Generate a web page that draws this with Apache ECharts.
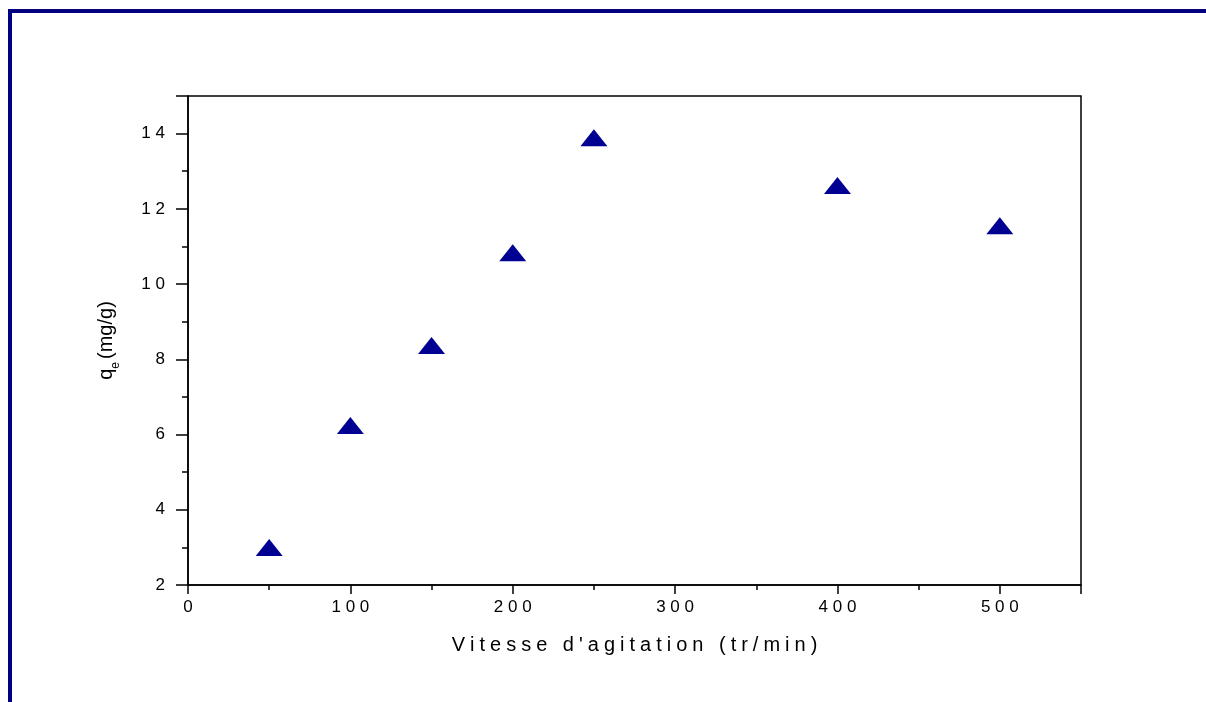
<!DOCTYPE html>
<html>
<head>
<meta charset="utf-8">
<script src="https://cdn.jsdelivr.net/npm/echarts@6/dist/echarts.min.js"></script>
<style>
html,body{margin:0;padding:0;background:#fff;}
#c{width:1206px;height:702px;}
</style>
</head>
<body>
<div id="c"></div>
<script>
// Data
const speeds = [50, 100, 150, 200, 250, 400, 500];
const qe = [3.0, 6.24, 8.37, 10.83, 13.89, 12.62, 11.55];
const xTitle = "Vitesse d'agitation (tr/min)";
const yTitle = "(mg/g)";

function spaced(s){ return String(s).split('').join(' '); }
function spacedTitle(s){ return s.split('').join('\u2005'); }

const chart = echarts.init(document.getElementById('c'), null, {renderer:'canvas'});
const font = "'Liberation Sans', Arial, sans-serif";
chart.setOption({
  animation:false,
  backgroundColor:'#fff',
  graphic:[
    {type:'rect', shape:{x:8,y:9,width:1198,height:4}, style:{fill:'#000080'}, silent:true},
    {type:'rect', shape:{x:8,y:9,width:4,height:693}, style:{fill:'#000080'}, silent:true}
  ],
  grid:{left:188, top:96, right:125, bottom:117, show:true, borderColor:'#000', borderWidth:1.5, backgroundColor:'transparent'},
  xAxis:{
    type:'value', min:0, max:550, interval:100,
    axisLine:{show:true, onZero:false, lineStyle:{color:'#000', width:1.5}},
    axisTick:{show:true, inside:false, length:9, lineStyle:{color:'#000', width:1.5}},
    minorTick:{show:true, splitNumber:2, length:5, lineStyle:{color:'#000', width:1.5}},
    splitLine:{show:false},
    axisLabel:{margin:14, color:'#000', fontSize:17, fontFamily:font, formatter:v=>spaced(v), showMaxLabel:false},
    name: spacedTitle(xTitle), nameLocation:'middle', nameGap:50,
    nameTextStyle:{color:'#000', fontSize:20, fontFamily:font}
  },
  yAxis:{
    type:'value', min:2, max:15, interval:2,
    axisLine:{show:true, onZero:false, lineStyle:{color:'#000', width:1.5}},
    axisTick:{show:true, inside:false, length:12, lineStyle:{color:'#000', width:1.5}},
    minorTick:{show:true, splitNumber:2, length:6, lineStyle:{color:'#000', width:1.5}},
    splitLine:{show:false},
    axisLabel:{margin:23, color:'#000', fontSize:17, fontFamily:font, formatter:v=> v>14 ? '' : spaced(v)},
    name:'{q|q}{e|e}{q|' + yTitle + '}', nameLocation:'middle', nameGap:66, nameRotate:90,
    nameTextStyle:{color:'#000', fontSize:20, fontFamily:font,
      rich:{q:{fontSize:20, lineHeight:32, fontFamily:font, color:'#000'},
            e:{fontSize:12, lineHeight:12, fontFamily:font, color:'#000', verticalAlign:'bottom', padding:[0,3,0,0]}}}
  },
  series:[{
    type:'scatter',
    data: speeds.map((s,i)=>[s, qe[i]]),
    symbol:'triangle', symbolSize:[27,17],
    itemStyle:{color:'#000092', opacity:1}
  }]
});
</script>
</body>
</html>
